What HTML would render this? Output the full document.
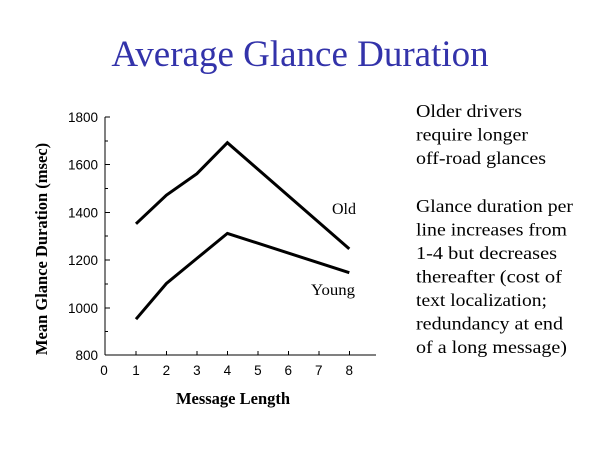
<!DOCTYPE html>
<html>
<head>
<meta charset="utf-8">
<style>
  html, body { margin: 0; padding: 0; background: #ffffff; }
  svg { display: block; }
</style>
</head>
<body>
<svg width="600" height="450" viewBox="0 0 600 450" xmlns="http://www.w3.org/2000/svg">
  <rect x="0" y="0" width="600" height="450" fill="#ffffff"/>

  <!-- Title -->
  <text x="300" y="66" text-anchor="middle" font-family="'Liberation Serif', serif" font-size="37" fill="#3333aa">Average Glance Duration</text>

  <!-- Axes -->
  <g stroke="#000" stroke-width="1" shape-rendering="crispEdges" fill="none">
    <line x1="105" y1="117" x2="105" y2="355"/>
    <line x1="105" y1="355" x2="376" y2="355"/>
    <!-- y major ticks -->
    <line x1="105" y1="117" x2="110" y2="117"/>
    <line x1="105" y1="164.7" x2="110" y2="164.7"/>
    <line x1="105" y1="212.4" x2="110" y2="212.4"/>
    <line x1="105" y1="260.1" x2="110" y2="260.1"/>
    <line x1="105" y1="307.8" x2="110" y2="307.8"/>
    <!-- y minor ticks -->
    <line x1="105" y1="140.8" x2="108" y2="140.8"/>
    <line x1="105" y1="188.5" x2="108" y2="188.5"/>
    <line x1="105" y1="236.2" x2="108" y2="236.2"/>
    <line x1="105" y1="283.9" x2="108" y2="283.9"/>
    <line x1="105" y1="331.6" x2="108" y2="331.6"/>
    <!-- x ticks -->
    <line x1="136" y1="351" x2="136" y2="355"/>
    <line x1="166.4" y1="351" x2="166.4" y2="355"/>
    <line x1="196.9" y1="351" x2="196.9" y2="355"/>
    <line x1="227.4" y1="351" x2="227.4" y2="355"/>
    <line x1="257.9" y1="351" x2="257.9" y2="355"/>
    <line x1="288.3" y1="351" x2="288.3" y2="355"/>
    <line x1="318.8" y1="351" x2="318.8" y2="355"/>
    <line x1="349.3" y1="351" x2="349.3" y2="355"/>
  </g>

  <!-- y tick labels -->
  <g font-family="'Liberation Sans', sans-serif" font-size="13.5" fill="#000" text-anchor="end">
    <text x="98" y="122">1800</text>
    <text x="98" y="169.7">1600</text>
    <text x="98" y="217.4">1400</text>
    <text x="98" y="265.1">1200</text>
    <text x="98" y="312.8">1000</text>
    <text x="98" y="360">800</text>
  </g>

  <!-- x tick labels -->
  <g font-family="'Liberation Sans', sans-serif" font-size="13.5" fill="#000" text-anchor="middle">
    <text x="104" y="375">0</text>
    <text x="136" y="375">1</text>
    <text x="166.4" y="375">2</text>
    <text x="196.9" y="375">3</text>
    <text x="227.4" y="375">4</text>
    <text x="257.9" y="375">5</text>
    <text x="288.3" y="375">6</text>
    <text x="318.8" y="375">7</text>
    <text x="349.3" y="375">8</text>
  </g>

  <!-- Axis titles -->
  <text x="233" y="404" text-anchor="middle" font-family="'Liberation Serif', serif" font-weight="bold" font-size="16.5" fill="#000">Message Length</text>
  <text transform="translate(47,249) rotate(-90)" text-anchor="middle" font-family="'Liberation Serif', serif" font-weight="bold" font-size="16.5" fill="#000">Mean Glance Duration (msec)</text>

  <!-- Series -->
  <polyline points="136,223.8 166.4,195.2 196.9,173.7 227.4,142.7 349.3,248.9" fill="none" stroke="#000" stroke-width="3" stroke-linejoin="miter"/>
  <polyline points="136,319.2 166.4,283.5 196.9,258.4 227.4,233.4 349.3,272.7" fill="none" stroke="#000" stroke-width="3" stroke-linejoin="miter"/>

  <!-- Series labels -->
  <g font-family="'Liberation Serif', serif" font-size="16" fill="#000">
    <text x="332" y="214" textLength="24" lengthAdjust="spacingAndGlyphs">Old</text>
    <text x="311" y="295" textLength="44" lengthAdjust="spacingAndGlyphs">Young</text>
  </g>

  <!-- Right text -->
  <g font-family="'Liberation Serif', serif" font-size="18" fill="#000">
    <text x="416" y="117" textLength="106" lengthAdjust="spacingAndGlyphs">Older drivers</text>
    <text x="416" y="140.5" textLength="112" lengthAdjust="spacingAndGlyphs">require longer</text>
    <text x="416" y="164" textLength="130" lengthAdjust="spacingAndGlyphs">off-road glances</text>
    <text x="416" y="212" textLength="157" lengthAdjust="spacingAndGlyphs">Glance duration per</text>
    <text x="416" y="235.5" textLength="151" lengthAdjust="spacingAndGlyphs">line increases from</text>
    <text x="416" y="259" textLength="141" lengthAdjust="spacingAndGlyphs">1-4 but decreases</text>
    <text x="416" y="282.5" textLength="146" lengthAdjust="spacingAndGlyphs">thereafter (cost of</text>
    <text x="416" y="306" textLength="131" lengthAdjust="spacingAndGlyphs">text localization;</text>
    <text x="416" y="329.5" textLength="147" lengthAdjust="spacingAndGlyphs">redundancy at end</text>
    <text x="416" y="353" textLength="151" lengthAdjust="spacingAndGlyphs">of a long message)</text>
  </g>
</svg>
</body>
</html>
